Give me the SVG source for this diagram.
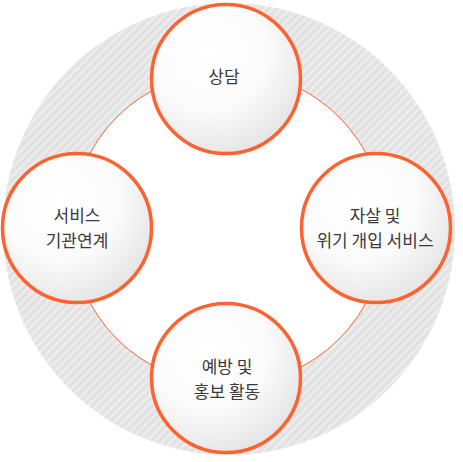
<svg xmlns="http://www.w3.org/2000/svg" width="463" height="462" viewBox="0 0 463 462">
<defs>
<pattern id="hatch" patternUnits="userSpaceOnUse" width="6" height="6" patternTransform="rotate(45)">
<rect width="6" height="6" fill="#e2e2e2"/>
<rect width="2.5" height="6" fill="#ededed"/>
</pattern>
<radialGradient id="ball" cx="0.38" cy="0.32" r="0.72">
<stop offset="0" stop-color="#ffffff"/>
<stop offset="0.55" stop-color="#fbfbfb"/>
<stop offset="1" stop-color="#e4e4e4"/>
</radialGradient>
<style>
.node circle{fill:url(#ball);stroke:#fd6231;stroke-width:3.5}
.lbl{font-family:"Noto Sans CJK KR","Noto Sans",sans-serif;font-size:17px;fill:#3a3a3a;text-anchor:middle}
</style>
</defs>
<circle cx="229" cy="229" r="226" fill="url(#hatch)"/>
<g id="connectors">
<circle cx="228" cy="228" r="157" fill="#ffffff" stroke="#fd6231" stroke-width="1"/>
</g>
<g id="n-top" class="node">
<circle cx="226" cy="79" r="74.5"/>
<text class="lbl" x="224" y="83">상담</text>
</g>
<g id="n-right" class="node">
<circle cx="376" cy="228" r="74.5"/>
<text class="lbl" x="375" y="222">자살 및</text>
<text class="lbl" x="375" y="247">위기 개입 서비스</text>
</g>
<g id="n-bottom" class="node">
<circle cx="226" cy="378" r="74.5"/>
<text class="lbl" x="227" y="373">예방 및</text>
<text class="lbl" x="227" y="398">홍보 활동</text>
</g>
<g id="n-left" class="node">
<circle cx="77" cy="228" r="74.5"/>
<text class="lbl" x="77" y="222">서비스</text>
<text class="lbl" x="77" y="247">기관연계</text>
</g>
</svg>
